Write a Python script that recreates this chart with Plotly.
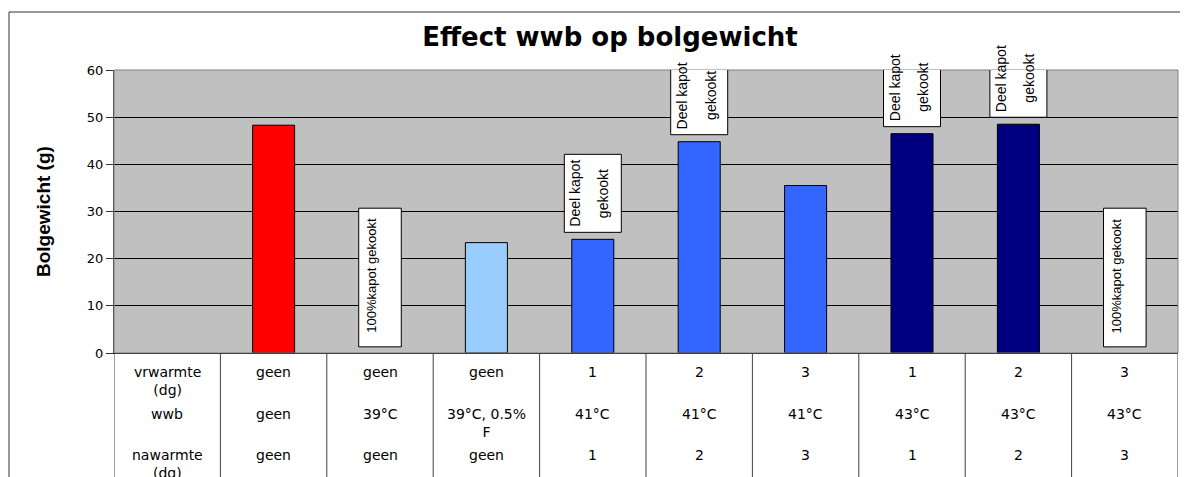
"""
Effect wwb op bolgewicht - staafgrafiek met datatabel eronder (Excel-stijl).
"""
import plotly.graph_objects as go

# ─── DATA ───────────────────────────────────────────────────

row_labels = ["vrwarmte<br>(dg)", "wwb", "nawarmte<br>(dg)"]
vrwarmte = ["geen", "geen", "geen", "1", "2", "3", "1", "2", "3"]
wwb = ["geen", "39°C", "39°C, 0.5%<br>F", "41°C", "41°C", "41°C", "43°C", "43°C", "43°C"]
nawarmte = ["geen", "geen", "geen", "1", "2", "3", "1", "2", "3"]
bolgewicht = [48.3, None, 23.4, 24.1, 44.8, 35.5, 46.5, 48.5, None]
opmerking = [None, "100%kapot gekookt", None, "Deel kapot gekookt", "Deel kapot gekookt",
             None, "Deel kapot gekookt", "Deel kapot gekookt", "100%kapot gekookt"]
y_ticks = [0, 10, 20, 30, 40, 50, 60]

# ─── STIJL ──────────────────────────────────────────────────

BAR_COLORS = ["#FF0000", "#FFFFFF", "#99CCFF", "#3366FF", "#3366FF",
              "#3366FF", "#000080", "#000080", "#FFFFFF"]
FONT = "DejaVu Sans, Arial, sans-serif"
OFF = 8                      # standaard body-marge van de pagina
W, H = 1188 - OFF, 477 - OFF
L, T = 114 - OFF, 70 - OFF
R, B = W - (1178 - OFF), H - (353 - OFF)
PW, PH = W - L - R, H - T - B


def px_x(x):
    """paginapixel -> paper-coordinaat"""
    return (x - OFF - L) / PW


def px_y(y):
    return (H - B - (y - OFF)) / PH


# eerste kolom is de kolom met rijlabels van de tabel
categories = [" "] + [f"{a} / {b} / {c}" for a, b, c in zip(vrwarmte, wwb, nawarmte)]
values = [None] + bolgewicht
notes = [None] + opmerking
colors = ["#FFFFFF"] + BAR_COLORS

fig = go.Figure(go.Bar(
    x=categories, y=values,
    marker=dict(color=colors, line=dict(color="#000000", width=1)),
    hoverinfo="y",
))

shapes = []
annotations = []

# kader rond plotgebied (grijs boven/rechts)
shapes.append(dict(type="rect", xref="paper", yref="paper", x0=0, x1=1, y0=0, y1=1,
                   line=dict(color="#808080", width=1), layer="above"))

# opmerkingen bij de staven
for i, (note, v) in enumerate(zip(notes, values)):
    if not note:
        continue
    if v is None:
        shapes.append(dict(type="rect", xref="x", yref="y",
                           x0=i - 0.2, x1=i + 0.2, y0=1.3, y1=30.7,
                           fillcolor="#FFFFFF", line=dict(color="#000000", width=1),
                           layer="above"))
        annotations.append(dict(x=i, y=16.4, xref="x", yref="y", text=note,
                                textangle=-90, showarrow=False, xshift=-8,
                                font=dict(family="Liberation Sans, Arial", size=13,
                                          color="#000000")))
    else:
        shapes.append(dict(type="rect", xref="x", yref="y",
                           xsizemode="pixel", xanchor=i, x0=-28.5, x1=28.5,
                           ysizemode="pixel", yanchor=v, y0=7, y1=85,
                           fillcolor="#FFFFFF", line=dict(color="#000000", width=1),
                           layer="above"))
        first, second = note.rsplit(" ", 1)
        for txt, dx in [(first, -17.5), (second, 11)]:
            annotations.append(dict(x=i, y=v, xref="x", yref="y", text=txt,
                                    textangle=-90, showarrow=False,
                                    xshift=dx, yshift=46,
                                    font=dict(family="Liberation Sans, Arial", size=14,
                                              color="#000000")))

# datatabel onder de grafiek
for k in range(len(categories) + 1):
    shapes.append(dict(type="line", xref="x", yref="paper",
                       x0=k - 0.5, x1=k - 0.5, y0=0, y1=px_y(490),
                       line=dict(color="#404040", width=1)))

table_rows = [row_labels] + [list(r) for r in zip(vrwarmte, wwb, nawarmte)]
row_tops = [362, 404, 445]
for i, col in enumerate(table_rows):
    for r, txt in enumerate(col):
        annotations.append(dict(x=i, y=px_y(row_tops[r]), xref="x", yref="paper",
                                text=txt, showarrow=False, yanchor="top",
                                align="center",
                                font=dict(family=FONT, size=14, color="#000000")))

# buitenkader van de grafiek
shapes.append(dict(type="line", xref="paper", yref="paper",
                   x0=px_x(9), x1=px_x(1200), y0=px_y(12), y1=px_y(12),
                   line=dict(color="#333333", width=1)))
shapes.append(dict(type="line", xref="paper", yref="paper",
                   x0=px_x(9), x1=px_x(9), y0=px_y(12), y1=px_y(490),
                   line=dict(color="#333333", width=1)))

# as-titel
annotations.append(dict(x=px_x(31), y=0.5, xref="paper", yref="paper",
                        text="<b>Bolgewicht (g)</b>", textangle=-90, showarrow=False,
                        font=dict(family="Liberation Sans, Arial", size=19,
                                  color="#000000")))

fig.update_layout(
    width=W, height=H,
    margin=dict(l=L, r=R, t=T, b=B),
    paper_bgcolor="#FFFFFF",
    plot_bgcolor="#C0C0C0",
    showlegend=False,
    bargap=0.605,
    title=dict(text="<b>Effect wwb op bolgewicht</b>", x=(610 - OFF) / W,
               xanchor="center", y=1 - (37 - OFF) / H, yanchor="middle",
               font=dict(family=FONT, size=26, color="#000000")),
    font=dict(family=FONT, color="#000000"),
    xaxis=dict(type="category", range=[-0.5, len(categories) - 0.5],
               showticklabels=False, showgrid=False, ticks="",
               showline=True, linecolor="#000000", linewidth=1, fixedrange=True),
    yaxis=dict(range=[0, 60], tickvals=y_ticks, showgrid=True, gridcolor="#000000",
               gridwidth=1, zeroline=False, showline=True, linecolor="#333333",
               linewidth=1, ticks="outside", ticklen=7, tickcolor="#333333",
               tickfont=dict(family=FONT, size=13, color="#000000"), fixedrange=True),
    shapes=shapes,
    annotations=annotations,
)

fig.write_html("out.html")
